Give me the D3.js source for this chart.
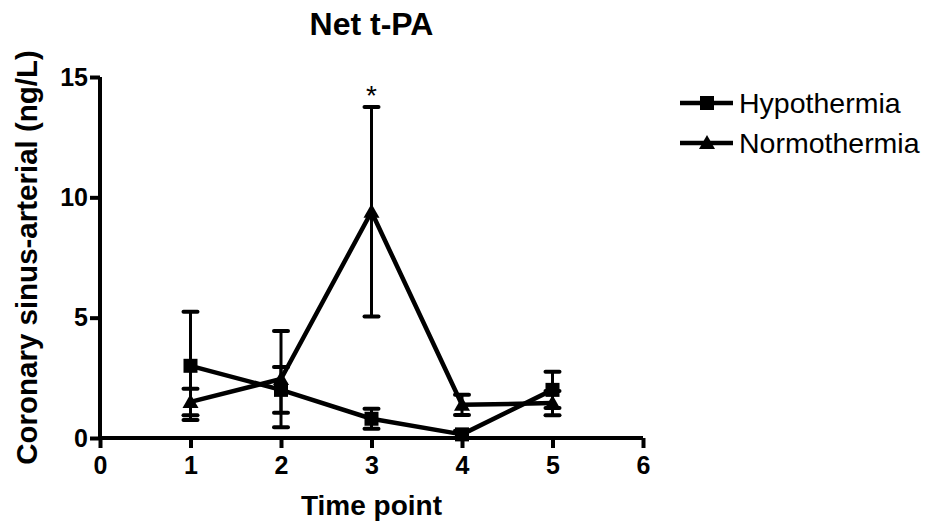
<!DOCTYPE html>
<html>
<head>
<meta charset="utf-8">
<script src="https://cdn.jsdelivr.net/npm/d3@7"></script>
<style>
  body { margin: 0; background: #fff; }
  text { font-family: "Liberation Sans", Arial, sans-serif; }
</style>
</head>
<body>
<svg id="chart" width="926" height="529"></svg>
<script>
const timePoints = [1, 2, 3, 4, 5];
const hypoMean = [3.0, 2.0, 0.8, 0.15, 2.0];
const hypoErr = [2.25, 0.95, 0.42, 0.15, 0.75];
const normoMean = [1.5, 2.45, 9.4, 1.38, 1.45];
const normoErr = [0.55, 2.0, 4.35, 0.42, 0.5];
const xTicks = [0, 1, 2, 3, 4, 5, 6];
const yTicks = [0, 5, 10, 15];
const seriesNames = ["Hypothermia", "Normothermia"];
const starAt = 3;

const svg = d3.select("#chart");
const margin = { top: 77, left: 100 };
const width = 543, height = 361;

const x = d3.scaleLinear().domain([0, 6]).range([margin.left, margin.left + width]);
const y = d3.scaleLinear().domain([0, 15]).range([margin.top + height, margin.top]);

const series = [
  { name: seriesNames[0], shape: "square", mean: hypoMean, err: hypoErr },
  { name: seriesNames[1], shape: "triangle", mean: normoMean, err: normoErr }
];

function marker(g, shape, cx, cy) {
  if (shape === "square") {
    g.append("rect")
      .attr("x", cx - 7).attr("y", cy - 7)
      .attr("width", 14).attr("height", 14)
      .attr("fill", "#000");
  } else {
    g.append("path")
      .attr("d", `M${cx},${cy - 8} L${cx + 8},${cy + 6} L${cx - 8},${cy + 6} Z`)
      .attr("fill", "#000");
  }
}

// Title
svg.append("text")
  .attr("x", x(3)).attr("y", 35)
  .attr("text-anchor", "middle")
  .attr("font-size", "32px").attr("font-weight", "bold")
  .text("Net t-PA");

// X axis
const xAxis = svg.append("g")
  .attr("transform", `translate(0,${y(0)})`)
  .call(d3.axisBottom(x).tickValues(xTicks).tickSize(10).tickPadding(8).tickFormat(d3.format("d")));
xAxis.select(".domain").attr("stroke-width", 4).attr("d", `M${x(0)},0H${x(6)}`);
xAxis.selectAll(".tick line").attr("stroke-width", 4);
xAxis.selectAll(".tick text")
  .attr("font-size", "25px").attr("font-weight", "bold")
  .attr("font-family", "Liberation Sans, Arial, sans-serif").attr("fill", "#000");

// Y axis
const yAxis = svg.append("g")
  .attr("transform", `translate(${x(0)},0)`)
  .call(d3.axisLeft(y).tickValues(yTicks).tickSize(10).tickPadding(2));
yAxis.select(".domain").attr("stroke-width", 4).attr("d", `M0,${y(0)}V${y(15)}`);
yAxis.selectAll(".tick line").attr("stroke-width", 4);
yAxis.selectAll(".tick text")
  .attr("font-size", "25px").attr("font-weight", "bold")
  .attr("font-family", "Liberation Sans, Arial, sans-serif").attr("fill", "#000");

// Axis labels
svg.append("text")
  .attr("x", x(3)).attr("y", 515)
  .attr("text-anchor", "middle")
  .attr("font-size", "28px").attr("font-weight", "bold")
  .text("Time point");

svg.append("text")
  .attr("transform", "rotate(-90)")
  .attr("x", -y(7.5)).attr("y", 37)
  .attr("text-anchor", "middle")
  .attr("font-size", "29.5px").attr("font-weight", "bold")
  .text("Coronary sinus-arterial (ng/L)");

const plot = svg.append("g");

// Error bars
series.forEach(s => {
  timePoints.forEach((t, i) => {
    const hi = y(s.mean[i] + s.err[i]);
    const lo = y(Math.max(0, s.mean[i] - s.err[i]));
    plot.append("line")
      .attr("x1", x(t)).attr("x2", x(t))
      .attr("y1", hi).attr("y2", lo)
      .attr("stroke", "#000").attr("stroke-width", 3);
    [hi, lo].forEach(v => {
      plot.append("line")
        .attr("x1", x(t) - 7).attr("x2", x(t) + 7)
        .attr("y1", v).attr("y2", v)
        .attr("stroke", "#000").attr("stroke-width", 4)
        .attr("stroke-linecap", "round");
    });
  });
});

// Lines and markers
const line = d3.line().x((d, i) => x(timePoints[i])).y(d => y(d));
series.forEach(s => {
  plot.append("path")
    .attr("d", line(s.mean))
    .attr("fill", "none").attr("stroke", "#000")
    .attr("stroke-width", 4.5).attr("stroke-linejoin", "round");
  s.mean.forEach((m, i) => marker(plot, s.shape, x(timePoints[i]), y(m)));
});

// Significance star
const si = timePoints.indexOf(starAt);
svg.append("text")
  .attr("x", x(starAt)).attr("y", y(normoMean[si] + normoErr[si]) - 2)
  .attr("text-anchor", "middle")
  .attr("font-size", "28px")
  .text("*");

// Legend
const legend = svg.append("g");
series.forEach((s, i) => {
  const ly = 103 + i * 40;
  legend.append("line")
    .attr("x1", 680).attr("x2", 733)
    .attr("y1", ly).attr("y2", ly)
    .attr("stroke", "#000").attr("stroke-width", 4.5);
  marker(legend, s.shape, 707, ly);
  legend.append("text")
    .attr("x", 739).attr("y", ly + 10)
    .attr("font-size", "28.5px")
    .text(s.name);
});
</script>
</body>
</html>
